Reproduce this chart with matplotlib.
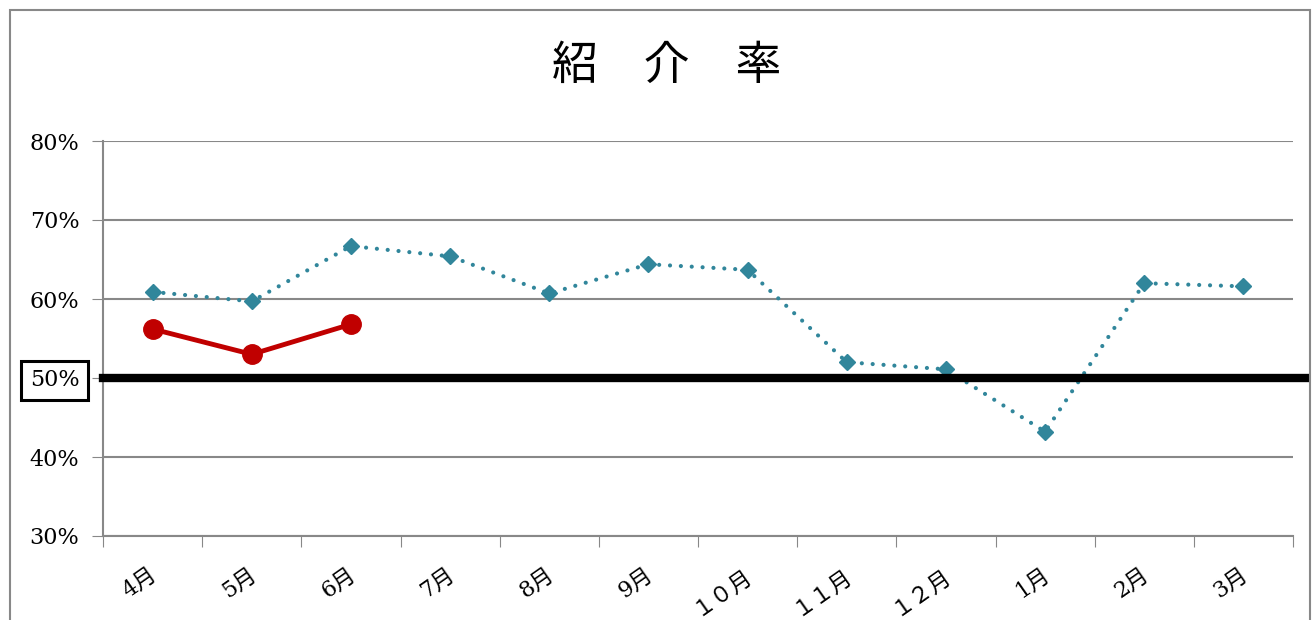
import numpy as np
import matplotlib.pyplot as plt
from matplotlib.patches import Rectangle
from matplotlib.transforms import ScaledTranslation

# month labels (fiscal year April -> March)
months = ['4月', '5月', '6月', '7月', '8月', '9月', '１０月', '１１月', '１２月', '1月', '2月', '3月']
# previous year (blue dotted) and current year (red) referral rate, %
rate_prev = [60.9, 59.7, 66.7, 65.4, 60.7, 64.4, 63.7, 52.0, 51.1, 43.2, 62.0, 61.6]
rate_curr = [56.2, 53.0, 56.8]
target = 50

fam = ['DejaVu Serif', 'Noto Sans CJK JP']
plt.rcParams['font.family'] = fam

fig = plt.figure(figsize=(13.13, 6.2), dpi=100)
ax = fig.add_axes([103 / 1313, 1 - 536 / 620, (1293 - 103) / 1313, (536 - 141) / 620])

x = np.arange(len(months))
ax.plot(x, rate_prev, color='#31869B', linestyle=(0, (0.01, 2.6)), linewidth=3,
        dash_capstyle='round', marker='D', markersize=8, zorder=3)
ax.plot(x[:len(rate_curr)], rate_curr, color='#C00000', linewidth=3.5,
        marker='o', markersize=14, zorder=4)

# target line at 50%
ax.axhline(target, xmin=0, xmax=1.01, color='black', linewidth=6, clip_on=False, zorder=5)

ax.set_xlim(-0.5, len(months) - 0.5)
ax.set_ylim(30, 80)
ax.set_yticks(np.arange(30, 81, 10))
ax.set_yticklabels([f'{v}%' for v in range(30, 81, 10)], fontsize=16)
ax.set_xticks(np.arange(-0.5, len(months), 1), minor=False)
ax.set_xticklabels([])
ax.set_xticks(x, minor=True)
ax.set_xticklabels(months, minor=True, rotation=35, fontsize=16, ha='right', va='top',
                   rotation_mode='anchor')
ax.tick_params(axis='x', which='minor', length=0, pad=20)
ax.tick_params(axis='x', which='major', length=8, color='#888888', direction='out')
ax.tick_params(axis='y', length=8, color='#888888', direction='out', pad=9)
# nudge month labels so they sit just left of the category centre
off = ScaledTranslation(-4 / 100, 0, fig.dpi_scale_trans)
for lbl in ax.get_xticklabels(minor=True):
    lbl.set_transform(lbl.get_transform() + off)

ax.grid(axis='y', color='#888888', linewidth=1.5)
ax.set_axisbelow(True)
for s in ['top', 'right']:
    ax.spines[s].set_visible(False)
for s in ['left', 'bottom']:
    ax.spines[s].set_color('#888888')
    ax.spines[s].set_linewidth(1.5)

# box round the 50% label
for lbl in ax.get_yticklabels():
    if lbl.get_text() == '50%':
        lbl.set_bbox(dict(facecolor='white', edgecolor='black', linewidth=2.2, pad=6))

fig.text(667 / 1313, 1 - 66 / 620, '紹\u3000介\u3000率', ha='center', va='center',
         fontsize=33, family=['Noto Sans CJK JP'])

# chart frame
fig.patches.append(Rectangle((10 / 1313, -0.05), 1300 / 1313, 1.05 - 10 / 620,
                             transform=fig.transFigure, fill=False,
                             edgecolor='#888888', linewidth=1.5))

fig.savefig('out.png', dpi=100)
